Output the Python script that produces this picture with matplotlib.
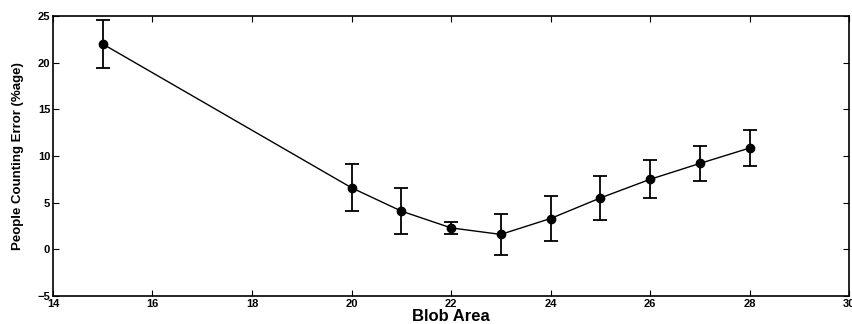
import matplotlib
matplotlib.use('Agg')
import matplotlib.pyplot as plt

# Blob area vs people counting error
blob_area = [15, 20, 21, 22, 23, 24, 25, 26, 27, 28]
count_error = [22.0, 6.6, 4.1, 2.3, 1.6, 3.3, 5.5, 7.5, 9.2, 10.85]
error_bar = [2.6, 2.5, 2.45, 0.65, 2.2, 2.45, 2.33, 2.02, 1.83, 1.9]

xticks = [14, 16, 18, 20, 22, 24, 26, 28, 30]
yticks = [-5, 0, 5, 10, 15, 20, 25]

plt.rcParams['font.family'] = ['Liberation Sans', 'DejaVu Sans']
plt.rcParams['font.weight'] = 'bold'

fig = plt.figure(figsize=(8.52, 3.24), dpi=100)
ax = fig.add_axes([0.0622, 0.0864, 0.9343, 0.8642])

ax.errorbar(blob_area, count_error, yerr=error_bar,
            color='black', linewidth=1.0,
            marker='o', markersize=6,
            ecolor='black', elinewidth=1.3, capsize=5, capthick=1.3)

ax.set_xlim(14, 30)
ax.set_ylim(-5, 25)
ax.set_xticks(xticks)
ax.set_yticks(yticks)
ax.tick_params(direction='in', top=True, right=True, length=4,
               labelsize=8, width=0.8, pad=2)
for lab in ax.get_xticklabels() + ax.get_yticklabels():
    lab.set_fontweight('bold')
for a in ["bottom", "top", "right", "left"]:
    ax.spines[a].set_linewidth(1.2)

ax.set_xlabel('Blob Area', fontsize=12, fontweight='bold', labelpad=0)
ax.set_ylabel('People Counting Error (%age)', fontsize=9.5,
              fontweight='bold', labelpad=10)

fig.savefig('out.png', dpi=100)
